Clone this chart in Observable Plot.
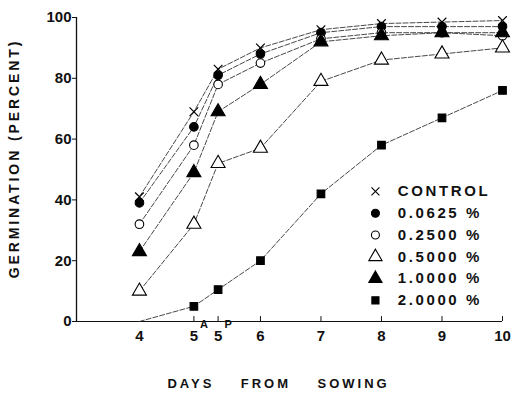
<!DOCTYPE html>
<html><head><meta charset="utf-8">
<script src="https://cdn.jsdelivr.net/npm/d3@7"></script>
<script src="https://cdn.jsdelivr.net/npm/@observablehq/plot@0.6"></script>
<style>
body{margin:0;background:#fff;}
#chart svg{font-family:"Liberation Sans",Arial,sans-serif;color:#111;}
.ltr text{letter-spacing:2.6px;}
.ytitle text{letter-spacing:2.9px;}
.xtitle text{letter-spacing:3px;white-space:pre;}
</style></head><body><div id="chart"></div>
<script>
// ---- data ----
const days = [4, 4.9, 5.3, 6, 7, 8, 9, 10];
const tickLabels = ["4", "5", "5", "6", "7", "8", "9", "10"];
const tickSup = ["", "A", "P", "", "", "", "", ""];
const yTicks = [0, 20, 40, 60, 80, 100];
const seriesNames = ["CONTROL", "0.0625 %", "0.2500 %", "0.5000 %", "1.0000 %", "2.0000 %"];
const control = [41, 69, 83, 90, 96, 98, 98.5, 99];
const c0625  = [39, 64, 81, 88, 95, 97, 97, 97];
const c2500  = [32, 58, 78, 85, 93, 95, 95, 94];
const c5000  = [10, 32, 52, 57, 79, 86, 88, 90];
const c10000 = [23, 49, 69, 78, 92, 94, 95, 95];
const c20000 = [0, 5, 10.5, 20, 42, 58, 67, 76];
const yTitle = "GERMINATION (PERCENT)";
const xTitle = "DAYS    FROM    SOWING";

// ---- styling ----
const seriesValues = [control, c0625, c2500, c5000, c10000, c20000];
const symbols = ["times", "circle", "circle", "triangle", "triangle", "square"];
const fills = ["none", "black", "white", "white", "black", "black"];
const radii = [4, 4.3, 4.3, 5.2, 5.2, 4.3];
const xMin = 2.96, xMax = 10;
const legendX = 7.9, legendTextX = 8.27, legendTop = 42.8, legendStep = 7.17;

const rows = [];
seriesNames.forEach((s, i) => days.forEach((d, j) => rows.push({series: s, idx: i, day: d, v: seriesValues[i][j]})));
// square at day 4 lies on the axis without a visible marker
const markerRows = rows.filter(r => !(r.idx === 5 && r.day === 4));

const marks = [
  Plot.ruleY([0], {x1: xMin, x2: xMax, stroke: "#111", strokeWidth: 1.1}),
  Plot.ruleX([xMin], {y1: 0, y2: 100, stroke: "#111", strokeWidth: 1.3}),
  Plot.ruleX(days.slice(1), {x: d => d, y1: 0, y2: 1.6, stroke: "#111"}),
  Plot.axisY(yTicks, {tickSize: 4, tickPadding: 1, fontSize: 15, fontWeight: "bold", label: null}),
  Plot.text(days, {x: d => d, frameAnchor: "bottom", text: (d, i) => tickLabels[i], dy: 19, fontSize: 15, fontWeight: "bold"}),
  Plot.text(days, {x: d => d, frameAnchor: "bottom", text: (d, i) => tickSup[i], dx: 10, dy: 6, fontSize: 11, fontWeight: "bold"}),
  Plot.line(rows, {x: "day", y: "v", z: "series", stroke: "#333", strokeWidth: 0.9, strokeDasharray: "5,2"}),
];
seriesNames.forEach((s, i) => {
  marks.push(Plot.dot(markerRows.filter(r => r.idx === i), {x: "day", y: "v", symbol: symbols[i], r: radii[i], fill: fills[i], stroke: "black", strokeWidth: i === 0 ? 1.2 : 1.1}));
  marks.push(Plot.dot([s], {x: legendX, y: legendTop - i * legendStep, symbol: symbols[i], r: radii[i] - 0.3, fill: fills[i], stroke: "black", strokeWidth: 1.1}));
});
marks.push(Plot.text(seriesNames, {x: legendTextX, y: (d, i) => legendTop - i * legendStep, text: d => d, textAnchor: "start", fontSize: 15, fontWeight: "bold", className: "ltr"}));
marks.push(Plot.text([yTitle], {frameAnchor: "left", textAnchor: "middle", rotate: -90, dx: -62, dy: -11, text: d => d, fontSize: 14, fontWeight: "bold", className: "ytitle"}));
marks.push(Plot.text([xTitle], {frameAnchor: "bottom", textAnchor: "middle", dx: -11, dy: 66, text: d => d, fontSize: 13, fontWeight: "bold", className: "xtitle"}));

const chart = Plot.plot({
  width: 520, height: 394,
  marginLeft: 76, marginRight: 18, marginTop: 17, marginBottom: 73,
  x: {domain: [xMin, xMax], axis: null},
  y: {domain: [0, 100], axis: null},
  marks
});
document.getElementById("chart").appendChild(chart);
</script></body></html>
